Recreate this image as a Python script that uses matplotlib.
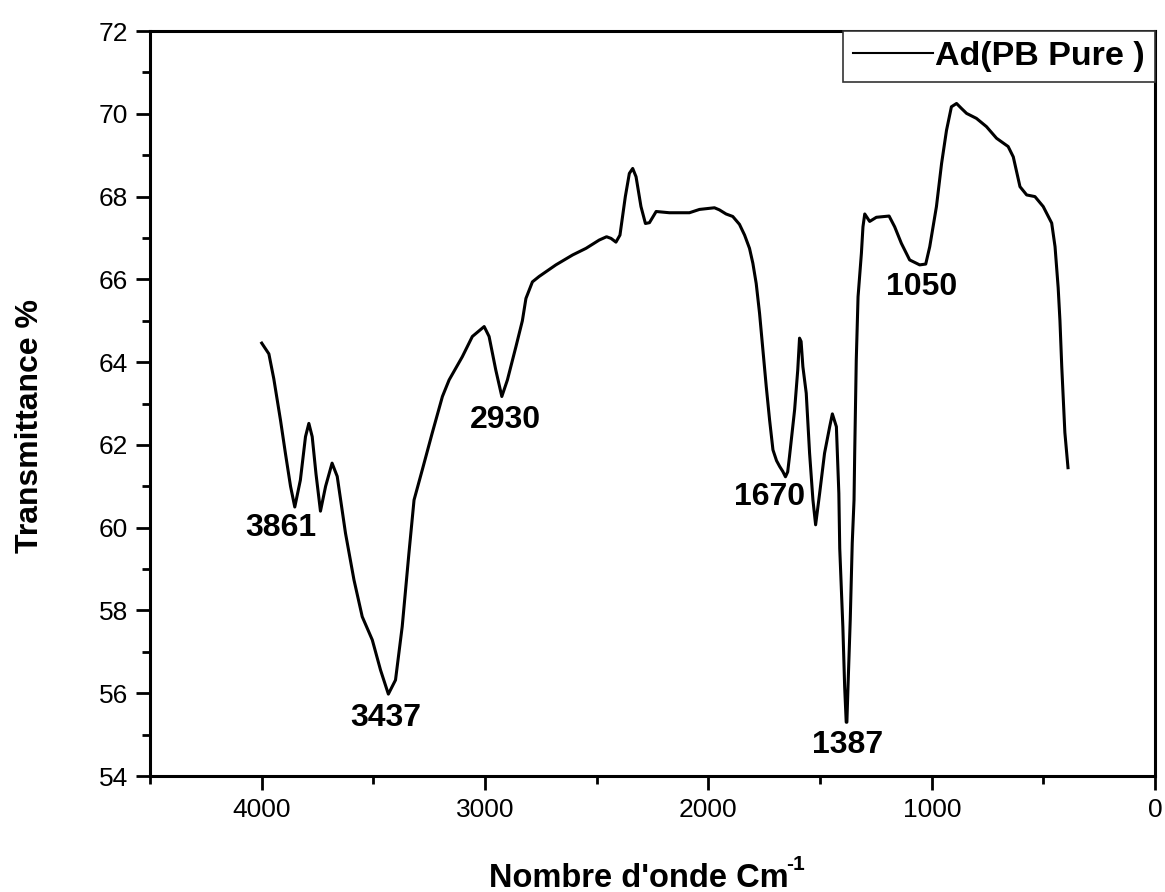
import matplotlib
matplotlib.use('Agg')

import numpy as np
import matplotlib.pyplot as plt
from matplotlib.ticker import MultipleLocator

plt.rcParams['font.family'] = ['Liberation Sans', 'DejaVu Sans']

# FTIR spectrum (wavenumber cm-1, transmittance %)
wavenumber = [4000, 3968, 3946, 3916, 3894, 3871, 3852, 3827, 3804, 3789, 3774, 3757,
              3737, 3714, 3685, 3662, 3625, 3587, 3550, 3505, 3468, 3433, 3401, 3371,
              3341, 3318, 3281, 3237, 3191, 3161, 3102, 3057, 3004, 2982, 2952, 2925,
              2900, 2862, 2833, 2817, 2788, 2758, 2683, 2608, 2548, 2489, 2456, 2436,
              2414, 2396, 2372, 2354, 2339, 2324, 2302, 2282, 2264, 2234, 2175, 2085,
              2040, 1973, 1951, 1921, 1891, 1861, 1838, 1816, 1801, 1786, 1771, 1756,
              1741, 1726, 1711, 1695, 1681, 1667, 1655, 1645, 1637, 1614, 1600, 1592,
              1585, 1577, 1562, 1547, 1532, 1520, 1502, 1480, 1457, 1445, 1427, 1416,
              1412, 1398, 1390, 1383, 1380, 1375, 1365, 1356, 1348, 1345, 1338, 1330,
              1315, 1308, 1300, 1278, 1248, 1191, 1166, 1136, 1099, 1054, 1027, 1009,
              979, 956, 934, 912, 889, 867, 844, 800, 755, 710, 658, 635,
              605, 575, 538, 501, 463, 448, 434, 426, 418, 404, 390]
transmittance = [64.46, 64.2, 63.6, 62.6, 61.8, 61.0, 60.5, 61.15, 62.2, 62.52, 62.2, 61.3,
                 60.4, 61.0, 61.56, 61.24, 59.87, 58.74, 57.85, 57.29, 56.56, 55.98, 56.32, 57.61,
                 59.38, 60.67, 61.4, 62.28, 63.17, 63.57, 64.13, 64.62, 64.86, 64.62, 63.81, 63.17,
                 63.57, 64.37, 65.0, 65.54, 65.94, 66.07, 66.35, 66.59, 66.75, 66.95, 67.03, 66.99,
                 66.9, 67.07, 68.0, 68.56, 68.68, 68.48, 67.76, 67.35, 67.37, 67.64, 67.61, 67.61,
                 67.69, 67.73, 67.68, 67.58, 67.52, 67.33, 67.07, 66.75, 66.39, 65.9, 65.18, 64.3,
                 63.41, 62.6, 61.88, 61.62, 61.48, 61.36, 61.23, 61.35, 61.72, 62.85, 63.81, 64.58,
                 64.5, 63.89, 63.25, 61.8, 60.67, 60.07, 60.83, 61.8, 62.44, 62.75, 62.44, 60.83,
                 59.5, 57.6, 56.16, 55.3, 55.3, 56.16, 57.77, 59.63, 60.67, 61.8, 64.05, 65.58,
                 66.63, 67.27, 67.58, 67.4, 67.5, 67.53, 67.27, 66.87, 66.47, 66.35, 66.37, 66.79,
                 67.76, 68.8, 69.6, 70.17, 70.25, 70.13, 70.01, 69.89, 69.69, 69.41, 69.21, 68.96,
                 68.24, 68.04, 68.0, 67.76, 67.36, 66.79, 65.8, 65.0, 63.9, 62.3, 61.45]

# peak labels and where they sit
peak_labels = ['3861', '3437', '2930', '1670', '1387', '1050']
peak_x = [3915, 3444, 2910, 1726, 1377, 1045]
peak_y = [60.0, 55.4, 62.6, 60.74, 54.75, 65.82]

fig = plt.figure(figsize=(11.65, 8.92), dpi=100)
ax = fig.add_axes([0.1288, 0.13, 0.8627, 0.8352])

ax.plot(wavenumber, transmittance, color='black', linewidth=2.2, label='Ad(PB Pure )')

for lab, px, py in zip(peak_labels, peak_x, peak_y):
    ax.text(px, py, lab, fontsize=23, fontweight='bold', ha='center', va='center')

ax.set_xlim(4500, 0)
ax.set_ylim(54, 72)
ax.xaxis.set_major_locator(MultipleLocator(1000))
ax.xaxis.set_minor_locator(MultipleLocator(500))
ax.yaxis.set_major_locator(MultipleLocator(2))
ax.yaxis.set_minor_locator(MultipleLocator(1))

ax.tick_params(which='major', direction='out', length=10, width=2, labelsize=19, pad=6)
ax.tick_params(which='minor', direction='out', length=6, width=2)
for s in ax.spines.values():
    s.set_linewidth(2.2)

ax.set_xlabel("Nombre d'onde Cm", fontsize=23.5, fontweight='bold', va='baseline')
ax.xaxis.set_label_coords(0.486, -0.149)
fig.text(786 / 1165, 1 - 870 / 892, '-1', fontsize=15, fontweight='bold', ha='left', va='baseline')
ax.set_ylabel('Transmittance %', fontsize=23, fontweight='bold', va='center')
ax.yaxis.set_label_coords(-0.119, 0.47)

leg = ax.legend(loc='upper right', bbox_to_anchor=(1, 1), borderaxespad=0,
                prop={'weight': 'bold', 'size': 24.5}, handlelength=2.35,
                handletextpad=0.05, borderpad=0.3, fancybox=False, framealpha=1)
leg.get_frame().set_edgecolor('#333333')
leg.get_frame().set_linewidth(1.2)
leg.get_lines()[0].set_linewidth(1.5)

fig.savefig('out.png', dpi=100)
